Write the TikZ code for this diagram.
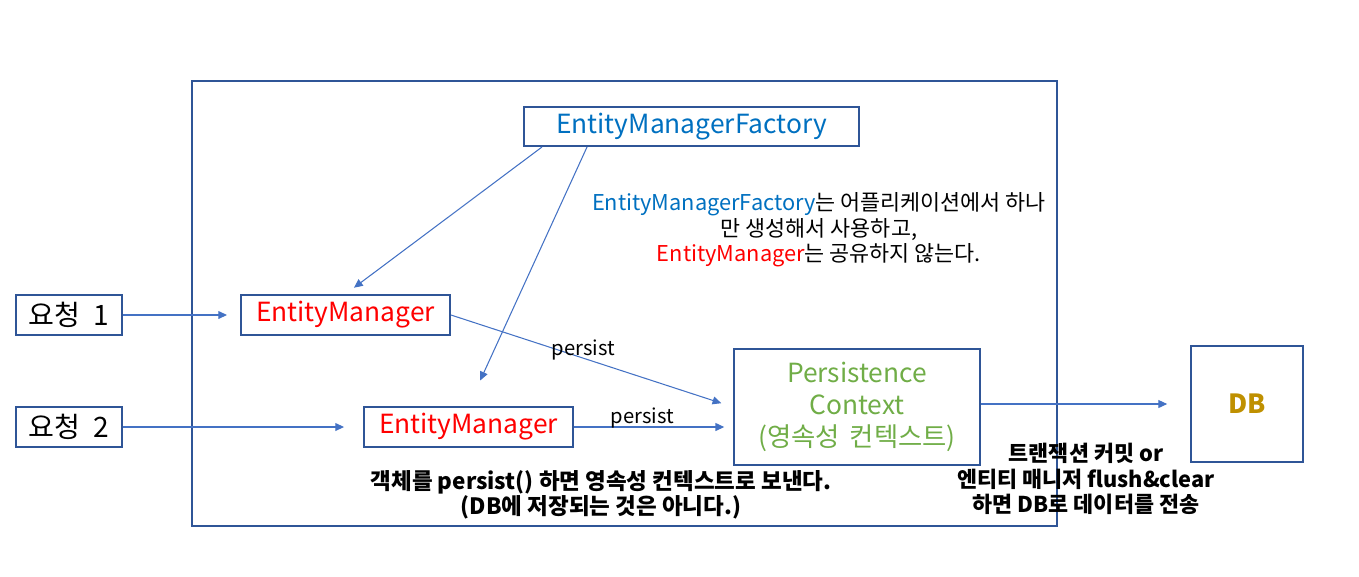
\documentclass[tikz,border=0pt]{standalone}
\usepackage{fontspec}
\setmainfont{Noto Sans CJK KR}
\usetikzlibrary{arrows.meta,positioning,calc}
\definecolor{BoxBlue}{RGB}{47,85,151}
\definecolor{ArrBlue}{RGB}{68,114,196}
\definecolor{EmfBlue}{RGB}{0,112,192}
\definecolor{PcGreen}{RGB}{112,173,71}
\definecolor{DbGold}{RGB}{191,144,0}

\tikzset{
  box/.style={draw=BoxBlue,line width=1.1pt,inner sep=0pt,align=center,
              font=\fontsize{15}{18.3}\selectfont},
  conn/.style={ArrBlue,line width=0.6pt,-{Triangle[length=5pt,width=4.5pt]}},
  note/.style={align=center,font=\fontsize{12.4}{14.5}\selectfont},
  lbl/.style={inner sep=0pt,text=black,font=\fontsize{11.5}{12}\selectfont},
}

\begin{document}
\begin{tikzpicture}[x=0.02cm,y=-0.02cm]
\useasboundingbox (0,0) rectangle (1359,576);
% application frame
\draw[BoxBlue,line width=1.1pt] (192,81) rectangle (1057,526);

\node[box,minimum width=335*0.02cm,minimum height=39*0.02cm,text=EmfBlue] (emf) at (691.5,126.5) {EntityManagerFactory};
\node[box,minimum width=106*0.02cm,minimum height=40*0.02cm,font=\fontsize{16}{18}\selectfont] (req1) at (69,315) {요청\hspace{0.25em} 1};
\node[box,minimum width=106*0.02cm,minimum height=40*0.02cm,font=\fontsize{16}{18}\selectfont] (req2) at (69,427) {요청\hspace{0.25em} 2};
\node[box,minimum width=209*0.02cm,minimum height=40*0.02cm,text=red] (em1) at (345.5,315) {EntityManager};
\node[box,minimum width=209*0.02cm,minimum height=40*0.02cm,text=red] (em2) at (468.5,427) {EntityManager};
\node[box,minimum width=246*0.02cm,minimum height=116*0.02cm,text=PcGreen] (pc) at (857,407) {Persistence\\Context\\(영속성\hspace{0.15em} 컨텍스트)};
\node[box,minimum width=112*0.02cm,minimum height=116*0.02cm,text=DbGold,font=\fontsize{15}{18}\selectfont\bfseries] (db) at (1247,404) {DB};

% notes
\node[note] (n1) at (819,230) {\textcolor{EmfBlue}{EntityManagerFactory}는 어플리케이션에서 하나\\만 생성해서 사용하고,\\\textcolor{red}{EntityManager}는 공유하지 않는다.};
\node[note,font=\fontsize{12.8}{14.2}\selectfont\bfseries] (n2) at (601,494.5) {객체를 persist() 하면 영속성 컨텍스트로 보낸다.\\(DB에 저장되는 것은 아니다.)};
\node[note,font=\fontsize{12.4}{14.7}\selectfont\bfseries] (n3) at (1086,479) {트랜잭션 커밋 or\\엔티티 매니저 flush\&clear\\하면 DB로 데이터를 전송};

% connectors
\draw[conn,shorten >=7.4pt] (req1.east) -- (em1.west);
\draw[conn,shorten >=10.8pt] (req2.east) -- (em2.west);
\draw[conn,shorten >=6pt] ($(emf.south west)+(19,0)$) -- (em1.north);
\draw[conn,shorten >=16pt] ($(emf.south west)+(64,0)$) -- (em2.north);
\draw[conn,shorten >=7pt] (em1.east) -- (pc.west)
  node[lbl,pos=0.47,anchor=south,yshift=-1.2pt] (p1) {persist};
\draw[conn,shorten >=5pt] (em2.east) -- (em2.east -| pc.west)
  node[lbl,pos=0.43,anchor=south,yshift=-1pt] (p2) {persist};
\draw[conn,shorten >=13pt] (pc.east |- db.west) -- (db.west);
\end{tikzpicture}
\end{document}
